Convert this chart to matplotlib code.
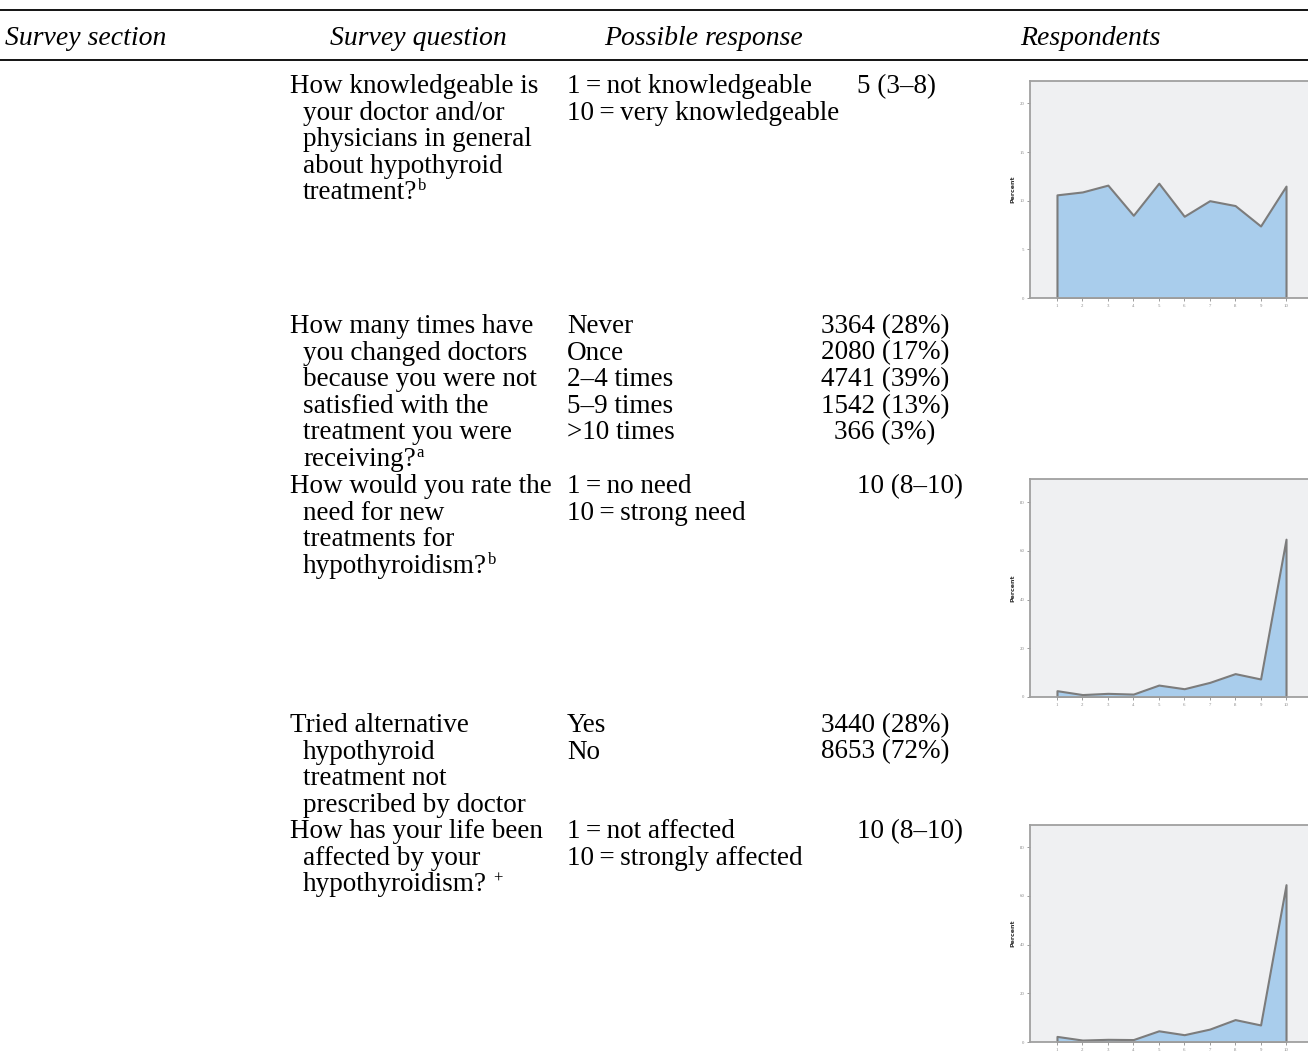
import matplotlib
matplotlib.use('Agg')
import matplotlib.pyplot as plt
import numpy as np

plt.rcParams['font.family'] = ['Liberation Serif', 'DejaVu Serif']

# ---- data ----
headers = ['Survey section', 'Survey question', 'Possible response', 'Respondents']

# (line text, superscript) pairs; superscript '' means none
questions = [
    [('How knowledgeable is', ''), ('your doctor and/or', ''), ('physicians in general', ''),
     ('about hypothyroid', ''), ('treatment?', 'b')],
    [('How many times have', ''), ('you changed doctors', ''), ('because you were not', ''),
     ('satisfied with the', ''), ('treatment you were', ''), ('receiving?', 'a')],
    [('How would you rate the', ''), ('need for new', ''), ('treatments for', ''),
     ('hypothyroidism?', 'b')],
    [('Tried alternative', ''), ('hypothyroid', ''), ('treatment not', ''),
     ('prescribed by doctor', '')],
    [('How has your life been', ''), ('affected by your', ''), ('hypothyroidism?', '+')],
]

responses = [
    ['1\u2009=\u2009not knowledgeable', '10\u2009=\u2009very knowledgeable'],
    ['Never', 'Once', '2\u20134 times', '5\u20139 times', '>10 times'],
    ['1\u2009=\u2009no need', '10\u2009=\u2009strong need'],
    ['Yes', 'No'],
    ['1\u2009=\u2009not affected', '10\u2009=\u2009strongly affected'],
]

counts = [
    ['5 (3\u20138)'],
    ['3364 (28%)', '2080 (17%)', '4741 (39%)', '1542 (13%)', '366 (3%)'],
    ['10 (8\u201310)'],
    ['3440 (28%)', '8653 (72%)'],
    ['10 (8\u201310)'],
]

scale = np.arange(1, 11)
knowledge_pct = [10.6, 10.9, 11.6, 8.5, 11.8, 8.4, 10.0, 9.5, 7.4, 11.5]
need_pct = [2.6, 1.0, 1.5, 1.2, 4.9, 3.4, 6.0, 9.6, 7.4, 64.8]
affected_pct = [2.3, 0.8, 1.1, 1.0, 4.6, 3.0, 5.3, 9.2, 7.0, 64.6]

# ---- layout (pixels) ----
W, H = 1308, 1061
row_baselines = [93, 333, 493, 732, 838]
line_step = 26.6
fs = 19.5

fig = plt.figure(figsize=(W / 100, H / 100), dpi=100)
tab = fig.add_axes([0, 0, 1, 1])
tab.set_xlim(0, W)
tab.set_ylim(H, 0)
tab.axis('off')

# table rules
tab.plot([0, W], [10, 10], color='black', lw=1.3)
tab.plot([0, W], [60, 60], color='black', lw=1.3)

header_x = [5, 330, 604, 1020]
for hx, h in zip(header_x, headers):
    tab.text(hx, 45, h, fontsize=20, style='italic', va='baseline', ha='left')

sup_list = []
for r, base in enumerate(row_baselines):
    for i, (line, sup) in enumerate(questions[r]):
        x = 290 if i == 0 else 303
        t = tab.text(x, base + i * line_step, line, fontsize=fs, va='baseline', ha='left')
        if sup:
            sup_list.append((t, sup, base + i * line_step))
    for i, line in enumerate(responses[r]):
        tab.text(567, base + i * line_step, line, fontsize=fs, va='baseline', ha='left')
    for i, line in enumerate(counts[r]):
        if len(counts[r]) > 1:
            tab.text(885, base + i * line_step, line, fontsize=fs, va='baseline', ha='center')
        else:
            tab.text(857, base + i * line_step, line, fontsize=fs, va='baseline', ha='left')

# superscripts placed right after their line
fig.canvas.draw()
renderer = fig.canvas.get_renderer()
for t, sup, yb in sup_list:
    bb = t.get_window_extent(renderer)
    x_end = bb.x1  # display pixels == data x here
    if sup == '+':
        x_end += 5
    tab.text(x_end + 1, yb - 9, sup, fontsize=12, va='baseline', ha='left')


def mini_chart(top, bottom, values, ymax, yticks):
    left, right = 1030, 1313
    ax = fig.add_axes([left / W, 1 - bottom / H, (right - left) / W, (bottom - top) / H])
    ax.set_facecolor('#eff0f2')
    ax.fill_between(scale, values, 0, facecolor='#a9cdec', edgecolor='#7c7c7c', lw=1.5)
    ax.set_xlim(-0.06, 11.06)
    ax.set_ylim(0, ymax)
    ax.set_xticks(scale)
    ax.set_yticks(yticks)
    ax.tick_params(labelsize=3.5, colors='#8a8a8a', length=2.5, width=0.6, pad=1.5)
    for s in ax.spines.values():
        s.set_color('#a0a0a0')
        s.set_linewidth(1.3)
    ax.set_ylabel('Percent', fontsize=4.5, fontweight='bold', family='DejaVu Sans',
                  color='#333333', labelpad=3)
    return ax


mini_chart(81, 298, knowledge_pct, 22.3, [0, 5, 10, 15, 20])
mini_chart(479, 697, need_pct, 89.5, [0, 20, 40, 60, 80])
mini_chart(825, 1042, affected_pct, 89.1, [0, 20, 40, 60, 80])

fig.savefig('out.png', dpi=100)
